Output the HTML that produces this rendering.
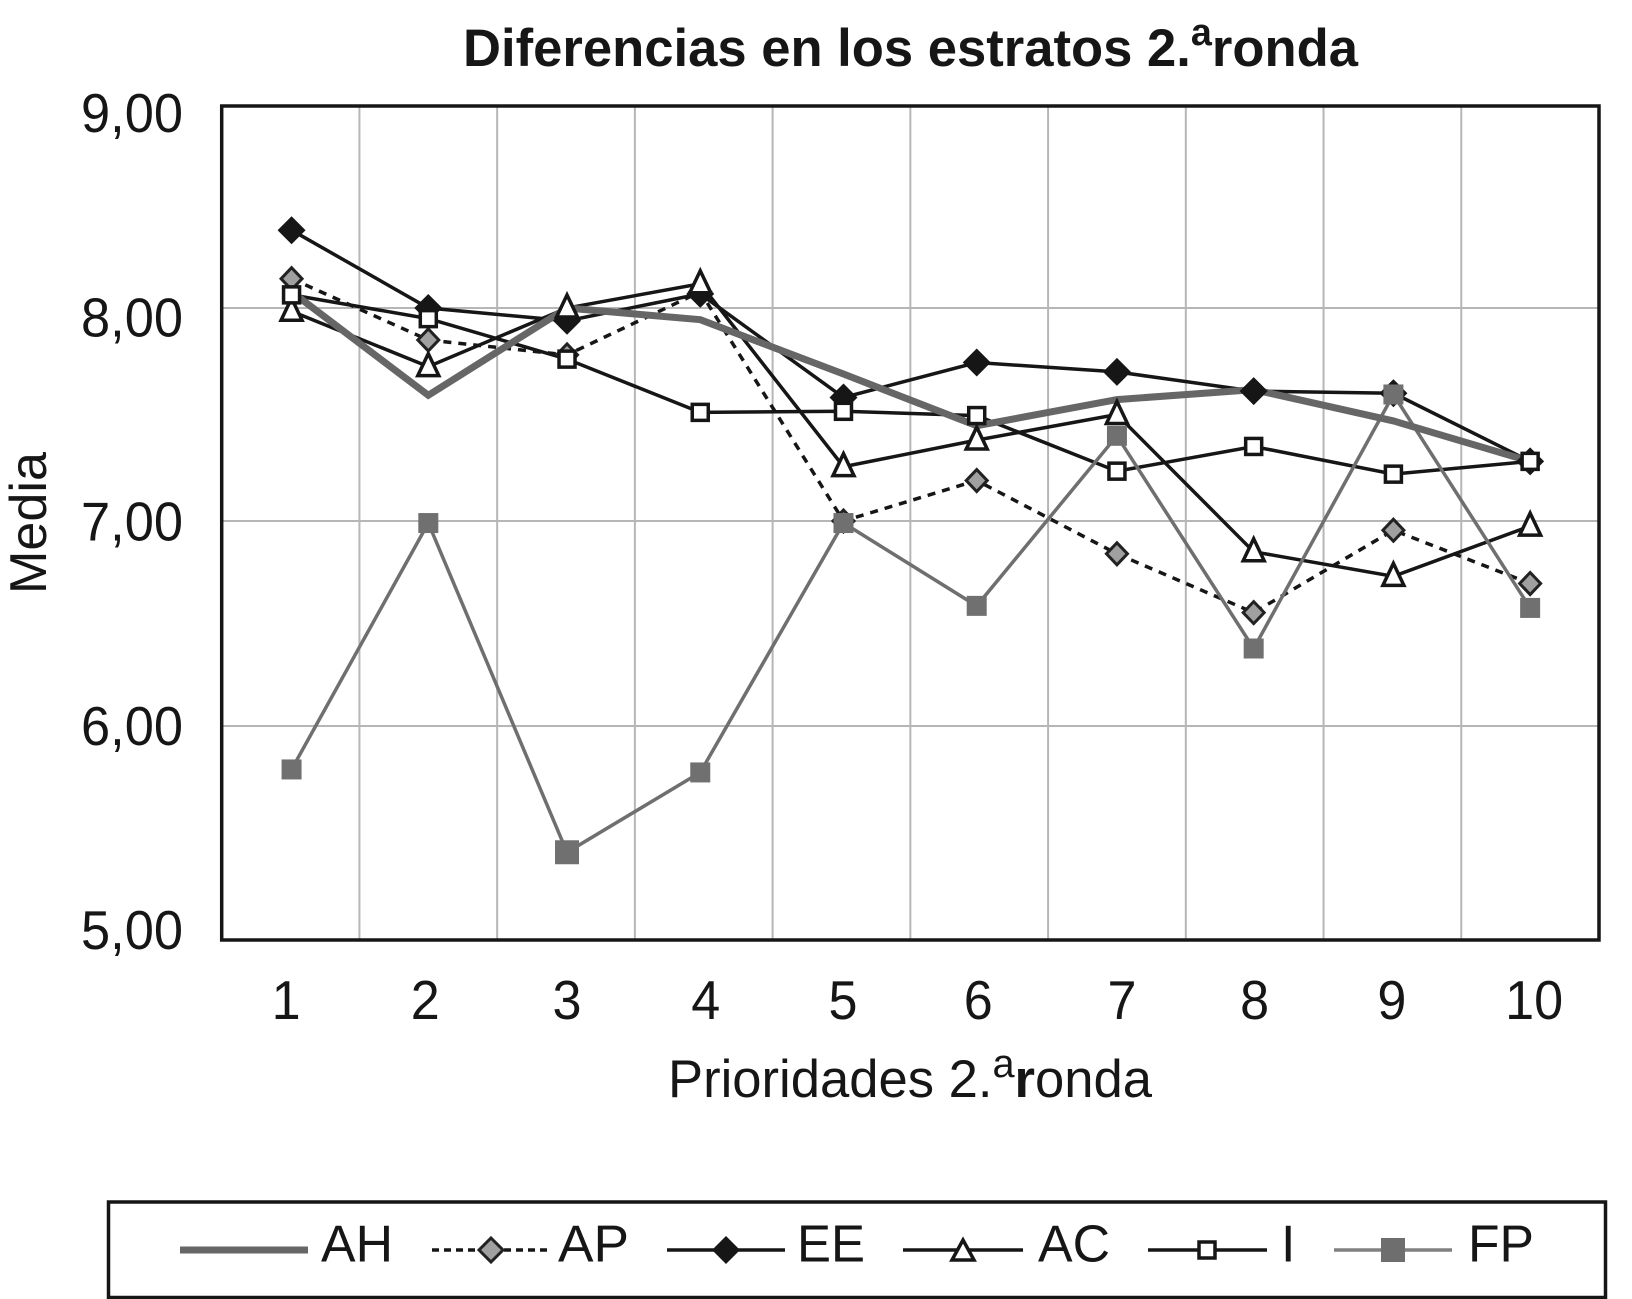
<!DOCTYPE html>
<html lang="es">
<head>
<meta charset="utf-8">
<title>Diferencias en los estratos 2.ª ronda</title>
<style>
html,body{margin:0;padding:0;background:#fff;width:1632px;height:1299px;overflow:hidden}
svg{display:block}
text{font-family:"Liberation Sans",Arial,sans-serif;fill:#161616}
</style>
</head>
<body>
<svg id="chart" xmlns="http://www.w3.org/2000/svg" width="1632" height="1299" viewBox="0 0 1632 1299">
  <rect x="0" y="0" width="1632" height="1299" fill="#fff"/>
  <text x="463" y="66" font-size="53" font-weight="700" textLength="895" lengthAdjust="spacingAndGlyphs">Diferencias en los estratos 2.<tspan font-size="38" dy="-21">a</tspan><tspan dy="21">ronda</tspan></text>
  <g id="grid"></g>
  <g id="marks"></g>
  <rect x="221.7" y="106" width="1377.3" height="834" fill="none" stroke="#161616" stroke-width="3.5"/>
  <g id="ticks" font-size="55"></g>
  <text transform="translate(46,594) rotate(-90)" font-size="52" textLength="142" lengthAdjust="spacingAndGlyphs">Media</text>
  <text x="668" y="1097" font-size="53" textLength="484" lengthAdjust="spacingAndGlyphs">Prioridades 2.<tspan font-size="40" dy="-20">a</tspan><tspan dy="20" font-weight="700">r</tspan>onda</text>

  <g>
    <rect x="108.5" y="1202" width="1497" height="95.5" fill="#fff" stroke="#161616" stroke-width="3.5"/>
    <g>
      <line x1="180" y1="1250" x2="308" y2="1250" stroke="#666" stroke-width="7"/>
      <text x="321" y="1261.5" font-size="52" textLength="72" lengthAdjust="spacingAndGlyphs">AH</text>
    </g>
    <g>
      <line x1="432" y1="1250" x2="550" y2="1250" stroke="#161616" stroke-width="3.5" stroke-dasharray="7 5"/>
      <polygon points="491,1238 503,1250 491,1262 479,1250" fill="#a0a0a0" stroke="#222" stroke-width="3"/>
      <text x="558" y="1261.5" font-size="52" textLength="71" lengthAdjust="spacingAndGlyphs">AP</text>
    </g>
    <g>
      <line x1="667" y1="1250" x2="785" y2="1250" stroke="#161616" stroke-width="3.5"/>
      <polygon points="726,1236 740,1250 726,1264 712,1250" fill="#161616"/>
      <text x="797" y="1261.5" font-size="52" textLength="68" lengthAdjust="spacingAndGlyphs">EE</text>
    </g>
    <g>
      <line x1="903" y1="1250" x2="1023" y2="1250" stroke="#161616" stroke-width="3.5"/>
      <polygon points="963,1240 974,1260 952,1260" fill="#fff" stroke="#161616" stroke-width="3.5"/>
      <text x="1038" y="1261.5" font-size="52" textLength="72" lengthAdjust="spacingAndGlyphs">AC</text>
    </g>
    <g>
      <line x1="1148" y1="1250" x2="1267" y2="1250" stroke="#161616" stroke-width="3.5"/>
      <rect x="1199" y="1242" width="16" height="16" fill="#fff" stroke="#161616" stroke-width="3.5"/>
      <text x="1281" y="1261.5" font-size="52">I</text>
    </g>
    <g>
      <line x1="1334" y1="1250" x2="1452" y2="1250" stroke="#808080" stroke-width="3.5"/>
      <rect x="1381" y="1238" width="24" height="24" fill="#6e6e6e"/>
      <text x="1468" y="1261.5" font-size="52" textLength="66" lengthAdjust="spacingAndGlyphs">FP</text>
    </g>
  </g>
</svg>
<script>
const categories = ['1','2','3','4','5','6','7','8','9','10'];
const yTickValues = [5,6,7,8,9];
const yTickLabels = ['5,00','6,00','7,00','8,00','9,00'];
const valuesAH = [8.08,7.59,8.00,7.945,7.69,7.447,7.57,7.617,7.47,7.28];
const valuesAP = [8.145,7.85,7.78,8.08,7.00,7.19,6.84,6.553,6.955,6.695];
const valuesEE = [8.385,8.00,7.94,8.07,7.58,7.744,7.70,7.61,7.60,7.28];
const valuesAC = [7.985,7.725,8.00,8.12,7.255,7.38,7.50,6.85,6.73,6.975];
const valuesI = [8.065,7.95,7.76,7.51,7.515,7.495,7.234,7.35,7.22,7.28];
const valuesFP = [5.797,6.99,5.41,5.783,6.99,6.586,7.40,6.378,7.594,6.576];

const NS = 'http://www.w3.org/2000/svg';
const grid = document.getElementById('grid');
const marks = document.getElementById('marks');
const ticks = document.getElementById('ticks');

// The scanned source axes are slightly uneven, so both scales follow the plotted anchors.
function yScale(v) {
  const d = [5,6,7,8,9];
  const r = [940,726,521,308,106];
  let i = 0;
  while (i < d.length - 2 && v > d[i + 1]) i++;
  return r[i] + (v - d[i]) / (d[i + 1] - d[i]) * (r[i + 1] - r[i]);
}
function xBand(i) { return 221.7 + 137.73 * i; }
function xScale(i) {
  const scanDrift = [1,0,1,-3.5,2,-2.5,0,-1,1,0];
  return xBand(i + 0.5) + scanDrift[i];
}
function xLabelScale(i) {
  const labelDrift = [-4.5,-3,1,2,1.5,-1,5,0,-0.5,4];
  return xBand(i + 0.5) + labelDrift[i];
}
function yLabelScale(v) { return 949 - (v - 5) * 204.25; }

function node(tag, attrs, parent) {
  const el = document.createElementNS(NS, tag);
  for (const k in attrs) el.setAttribute(k, attrs[k]);
  parent.appendChild(el);
  return el;
}

// gridlines and tick labels
yTickValues.forEach(function (v, i) {
  if (v !== 5 && v !== 9) {
    const g = node('line', {x1: 221.7, x2: 1599, y1: yScale(v), y2: yScale(v), stroke: '#b6b6b6', 'stroke-width': 2}, grid);
    
    
  }
  const t = node('text', {x: 81, y: yLabelScale(v), textLength: 102, lengthAdjust: 'spacingAndGlyphs'}, ticks);
  
  
  t.textContent = yTickLabels[i];
});
categories.forEach(function (c, i) {
  if (i > 0) {
    const g = node('line', {x1: xBand(i), x2: xBand(i), y1: 106, y2: 940, stroke: '#b6b6b6', 'stroke-width': 2}, grid);
    
    
  }
  const w = c.length * 29;
  const t = node('text', {x: xLabelScale(i) - w / 2, y: 1019, textLength: w, lengthAdjust: 'spacingAndGlyphs'}, ticks);
  
  
  t.textContent = c;
});

function drawLine(values, name, stroke, width, dash) {
  const pts = values.map(function (v, i) { return xScale(i).toFixed(1) + ',' + yScale(v).toFixed(1); }).join(' ');
  const p = node('polyline', {points: pts, fill: 'none', stroke: stroke, 'stroke-width': width, 'stroke-linejoin': 'miter'}, marks);
  if (dash) p.setAttribute('stroke-dasharray', dash);
  
  
}

function drawMarker(kind, x, y, name, big) {
  let el;
  if (kind === 'diamond') {
    el = node('polygon', {points: [x, y - 11, x + 10.5, y, x, y + 11, x - 10.5, y].join(' '), fill: '#a0a0a0', stroke: '#222', 'stroke-width': 3}, marks);
  } else if (kind === 'solid-diamond') {
    el = node('polygon', {points: [x, y - 14, x + 14, y, x, y + 14, x - 14, y].join(' '), fill: '#161616'}, marks);
  } else if (kind === 'triangle') {
    el = node('polygon', {points: [x, y - 13, x + 10.5, y + 9, x - 10.5, y + 9].join(' '), fill: '#fff', stroke: '#161616', 'stroke-width': 3.5}, marks);
  } else if (kind === 'square') {
    el = node('rect', {x: x - 8, y: y - 8, width: 16, height: 16, fill: '#fff', stroke: '#161616', 'stroke-width': 3.5}, marks);
  } else {
    const s = big ? 12 : 10;
    el = node('rect', {x: x - s, y: y - s, width: s * 2, height: s * 2, fill: '#707070'}, marks);
  }
  
  
}

drawLine(valuesAP, 'series-line-ap', '#161616', 3.5, '8 7');
drawLine(valuesEE, 'series-line-ee', '#161616', 3.5);
drawLine(valuesAC, 'series-line-ac', '#161616', 3.5);
drawLine(valuesI, 'series-line-i', '#161616', 3.5);
drawLine(valuesFP, 'series-line-fp', '#6f6f6f', 3.5);
drawLine(valuesAH, 'series-line-ah', '#666', 7);

valuesAP.forEach(function (v, i) { drawMarker('diamond', xScale(i), yScale(v), 'marker-ap-' + categories[i]); });
valuesEE.forEach(function (v, i) { drawMarker('solid-diamond', xScale(i), yScale(v), 'marker-ee-' + categories[i]); });
valuesAC.forEach(function (v, i) { drawMarker('triangle', xScale(i), yScale(v), 'marker-ac-' + categories[i]); });
valuesI.forEach(function (v, i) { drawMarker('square', xScale(i), yScale(v), 'marker-i-' + categories[i]); });
valuesFP.forEach(function (v, i) { drawMarker('solid-square', xScale(i), yScale(v), 'marker-fp-' + categories[i], i === 2); });
</script>
</body>
</html>
